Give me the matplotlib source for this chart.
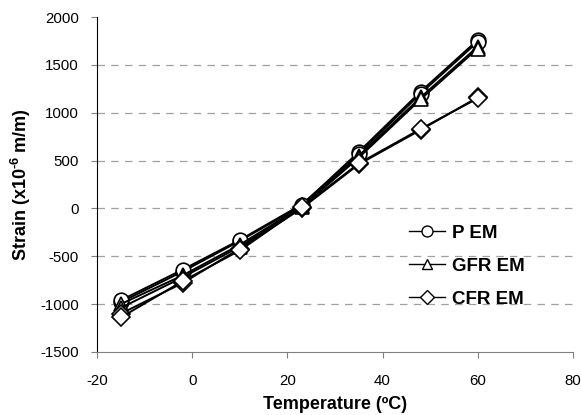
import matplotlib
matplotlib.use("Agg")
import matplotlib.pyplot as plt

plt.rcParams['font.family'] = ['Liberation Sans', 'DejaVu Sans']
plt.rcParams['axes.unicode_minus'] = False
plt.rcParams['mathtext.fontset'] = 'custom'
plt.rcParams['mathtext.rm'] = 'Liberation Sans:bold'
plt.rcParams['mathtext.default'] = 'rm'

# temperatures (C) and strain readings (x1e-6 m/m), two gauges per material
temp = [-15, -2, 10, 23, 35, 48, 60]

p_em_1 = [-980, -660, -340, 30, 590, 1220, 1760]
p_em_2 = [-960, -640, -330, 40, 570, 1200, 1740]
gfr_em_1 = [-1000, -700, -380, 20, 550, 1160, 1690]
gfr_em_2 = [-1040, -720, -400, 10, 530, 1140, 1670]
cfr_em_1 = [-1100, -780, -420, 0, 460, 820, 1160]
cfr_em_2 = [-1140, -760, -440, 10, 470, 830, 1150]

series = [
    ("P EM", "o", [p_em_1, p_em_2]),
    ("GFR EM", "^", [gfr_em_1, gfr_em_2]),
    ("CFR EM", "D", [cfr_em_1, cfr_em_2]),
]

fig = plt.figure(figsize=(5.81, 4.15), dpi=100)
ax = fig.add_axes([0.167, 0.152, 0.819, 0.807])

for name, mk, runs in series:
    ms = 9 if mk == "D" else 10.5
    for i, vals in enumerate(runs):
        ax.plot(temp, vals, color="black", lw=1.4, marker=mk, ms=ms,
                mfc="white", mec="black", mew=1.2,
                label=name if i == 0 else None, zorder=3)

ax.set_xlim(-20, 80)
ax.set_ylim(-1500, 2000)
ax.set_xticks(range(-20, 81, 20))
ax.set_yticks(range(-1500, 2001, 500))

for y in range(-1000, 1501, 500):
    ax.axhline(y, color="#a0a0a0", lw=0.9, ls=(0, (6, 5)), zorder=1)

for s in ["top", "right"]:
    ax.spines[s].set_visible(False)
ax.spines["left"].set_color("black")
ax.spines["bottom"].set_color("#808080")
ax.tick_params(axis="both", labelsize=10.8, length=4, color="#808080")
ax.tick_params(axis="x", pad=12)
ax.tick_params(axis="y", pad=9)

ax.set_xlabel("Temperature (ºC)", fontsize=13, fontweight="bold", labelpad=6)
ax.set_ylabel("Strain (x10$^{\\text{-6}}$ m/m)", fontsize=13, fontweight="bold", labelpad=5)

leg = ax.legend(loc="upper left", bbox_to_anchor=(0.62, 0.43), frameon=False,
                prop={"weight": "bold", "size": 13.5}, handlelength=1.9,
                labelspacing=0.85, handletextpad=0.4, markerscale=0.75)
for h in leg.get_lines():
    h.set_linewidth(1.0)
    h.set_markeredgewidth(1.0)

fig.savefig("out.png", dpi=100)
